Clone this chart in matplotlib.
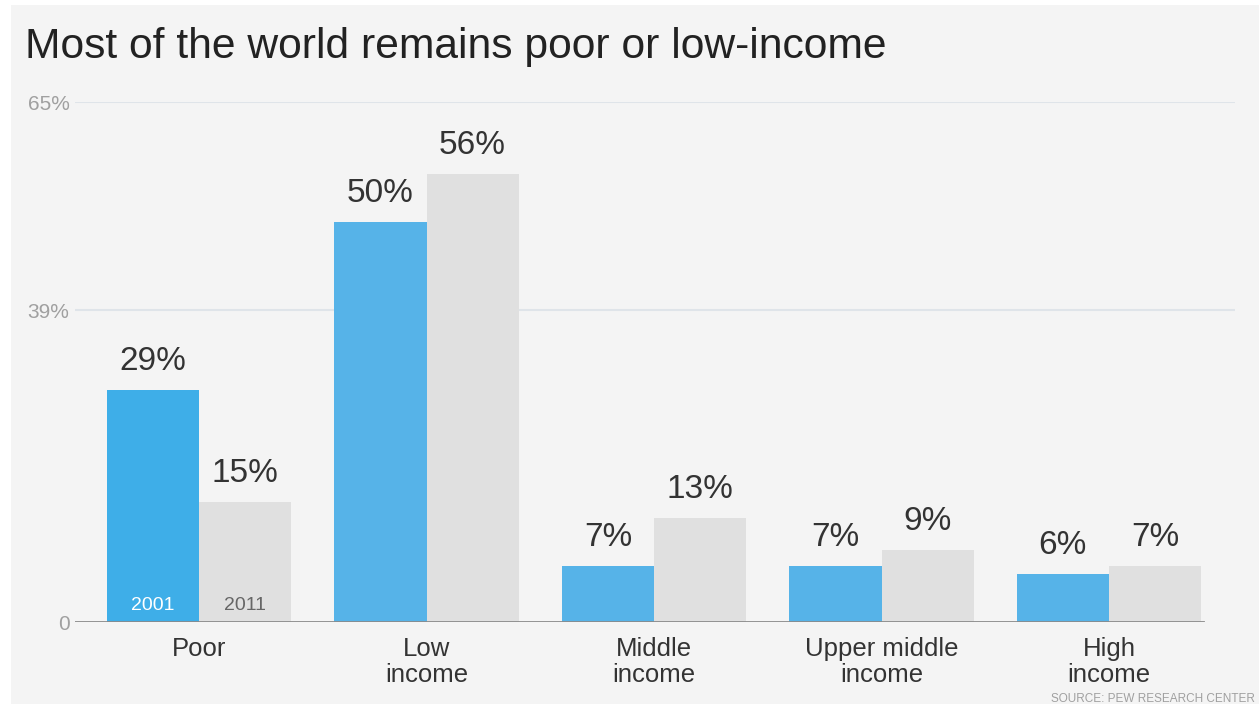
import numpy as np
import matplotlib.pyplot as plt
from matplotlib.patches import Rectangle

plt.rcParams['font.family'] = ['Liberation Sans', 'DejaVu Sans']

categories = ['Poor', 'Low\nincome', 'Middle\nincome', 'Upper middle\nincome', 'High\nincome']
share_2001 = [29, 50, 7, 7, 6]
share_2011 = [15, 56, 13, 9, 7]
yticks = [0, 39, 65]
ytick_labels = ['0', '39%', '65%']

W, H = 1259, 704
fig = plt.figure(figsize=(W / 100, H / 100), dpi=100, facecolor='white')
fig.patches.append(Rectangle((11 / W, 0), 1, 1 - 5 / H, transform=fig.transFigure,
                             facecolor='#f4f4f4', edgecolor='none', zorder=-1))

# axes spans from baseline start to gridline end (pixel positions from the reference)
x0, x1 = 75, 1235
ax = fig.add_axes([x0 / W, 1 - 622 / H, (x1 - x0) / W, (622 - 102) / H])
ax.set_facecolor('none')

step = 227.5
c0 = 199
ax.set_xlim((x0 - c0) / step, (x1 - c0) / step)
ax.set_ylim(0, 65)

x = np.arange(len(categories))
w = 0.405
blue = ['#3eaee8'] + ['#56b3e8'] * 4
ax.bar(x - w / 2, share_2001, w, color=blue, zorder=3)
ax.bar(x + w / 2, share_2011, w, color='#e0e0e0', zorder=3)

for xi, v in zip(x, share_2001):
    ax.text(xi - w / 2, v + 1.6, f'{v}%', ha='center', va='bottom', fontsize=24, color='#333333')
for xi, v in zip(x, share_2011):
    ax.text(xi + w / 2, v + 1.6, f'{v}%', ha='center', va='bottom', fontsize=24, color='#333333')

ax.text(x[0] - w / 2, 1.0, '2001', ha='center', va='bottom', fontsize=14, color='white', zorder=4)
ax.text(x[0] + w / 2, 1.0, '2011', ha='center', va='bottom', fontsize=14, color='#666666', zorder=4)

for yv in yticks[1:]:
    ax.axhline(yv, color='#dfe4e9', lw=1.5, zorder=1)
ax.axhline(0, xmax=(1203 - x0) / (x1 - x0), color='#8a8a8a', lw=2, zorder=4)

for s in ax.spines.values():
    s.set_visible(False)
ax.set_yticks(yticks)
ax.set_yticklabels(ytick_labels, fontsize=15, color='#a0a0a0')
ax.tick_params(axis='y', length=0, pad=4)
ax.set_xticks(x)
ax.set_xticklabels(categories, fontsize=18.5, color='#333333', linespacing=1.1)
ax.tick_params(axis='x', length=0, pad=11)

fig.text(25 / W, 1 - 47 / H, 'Most of the world remains poor or low-income', fontsize=30.7,
         color='#222222', va='center', ha='left')
fig.text(1255 / W, 1 - 699 / H, 'SOURCE: PEW RESEARCH CENTER', fontsize=8.5, color='#a0a0a0',
         ha='right', va='center')

fig.savefig('out.png', dpi=100, facecolor=fig.get_facecolor())
